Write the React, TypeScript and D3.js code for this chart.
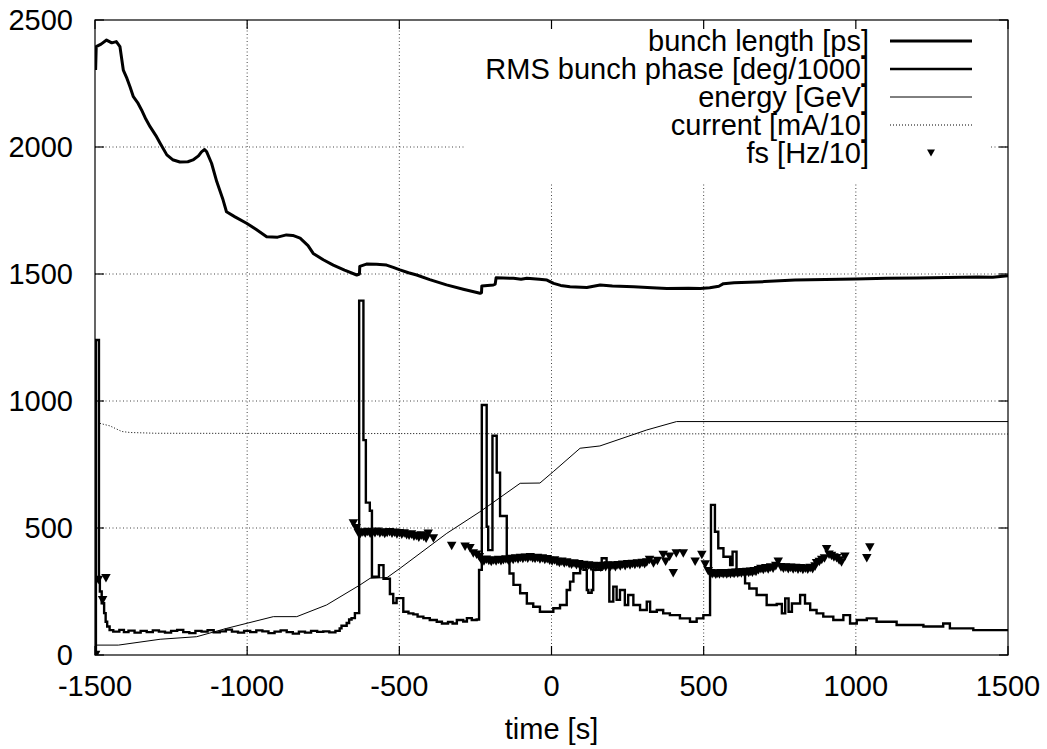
import React from 'react';
import * as d3 from 'd3';

type P = [number, number];

const xTicks = [-1500, -1000, -500, 0, 500, 1000, 1500];
const yTicks = [0, 500, 1000, 1500, 2000, 2500];
const xLabel = 'time [s]';
const legendLabels = [
  'bunch length [ps]',
  'RMS bunch phase [deg/1000]',
  'energy [GeV]',
  'current [mA/10]',
  'fs [Hz/10]',
];

const bunchLength: P[] = [
  [-1498, 2303], [-1496, 2395], [-1480, 2405], [-1462, 2421], [-1445, 2410], [-1430, 2415],
  [-1418, 2395], [-1407, 2303], [-1395, 2270], [-1385, 2237], [-1374, 2198], [-1360, 2175],
  [-1347, 2146], [-1333, 2110], [-1319, 2080], [-1300, 2045], [-1286, 2015], [-1264, 1969],
  [-1245, 1950], [-1221, 1941], [-1195, 1942], [-1178, 1949], [-1160, 1965], [-1150, 1981],
  [-1140, 1990], [-1133, 1981], [-1117, 1936], [-1100, 1864], [-1079, 1791], [-1068, 1745],
  [-1040, 1725], [-1002, 1700], [-970, 1675], [-936, 1647], [-900, 1645], [-871, 1654],
  [-850, 1652], [-826, 1641], [-800, 1612], [-783, 1581], [-750, 1556], [-717, 1535],
  [-680, 1515], [-640, 1496], [-631, 1500], [-630, 1530], [-608, 1539], [-575, 1538],
  [-542, 1535], [-520, 1526], [-498, 1516], [-470, 1505], [-443, 1496], [-400, 1478],
  [-345, 1457], [-290, 1440], [-235, 1424], [-230, 1426], [-229, 1453], [-191, 1457],
  [-185, 1460], [-182, 1485], [-125, 1483], [-100, 1479], [-81, 1483], [-40, 1479],
  [-15, 1476], [7, 1463], [30, 1455], [61, 1450], [116, 1447], [160, 1457], [200, 1453],
  [270, 1450], [330, 1446], [379, 1443], [450, 1444], [489, 1443], [520, 1446], [550, 1452],
  [565, 1462], [600, 1466], [700, 1470], [800, 1476], [900, 1478], [1000, 1480],
  [1100, 1483], [1200, 1484], [1300, 1486], [1400, 1488], [1450, 1487], [1500, 1493],
];

const rmsPhase: P[] = [
  [-1499, 0], [-1497, 1240], [-1487, 295], [-1484, 250], [-1478, 204], [-1470, 165],
  [-1465, 131], [-1460, 112], [-1452, 98], [-1440, 92], [-1420, 99], [-1405, 90],
  [-1390, 96], [-1370, 88], [-1350, 95], [-1330, 90], [-1310, 97], [-1290, 92],
  [-1270, 88], [-1250, 95], [-1230, 99], [-1210, 90], [-1190, 86], [-1170, 95],
  [-1150, 92], [-1130, 98], [-1110, 89], [-1090, 93], [-1070, 100], [-1050, 92],
  [-1030, 88], [-1010, 95], [-990, 90], [-970, 97], [-950, 93], [-930, 86], [-910, 92],
  [-890, 97], [-870, 90], [-850, 84], [-830, 92], [-810, 88], [-790, 95], [-770, 91],
  [-750, 93], [-730, 89], [-710, 95], [-696, 105], [-690, 115], [-673, 126], [-665, 140],
  [-657, 145], [-646, 165], [-632, 1395], [-618, 846], [-610, 600], [-597, 568],
  [-590, 308], [-567, 354], [-552, 300], [-531, 240], [-520, 205], [-509, 224],
  [-487, 170], [-470, 164], [-454, 160], [-440, 151], [-421, 145], [-400, 138],
  [-377, 131], [-360, 124], [-340, 130], [-325, 124], [-311, 138], [-290, 132],
  [-278, 145], [-262, 138], [-246, 140], [-238, 335], [-229, 984], [-213, 505],
  [-208, 413], [-194, 863], [-180, 718], [-169, 547], [-147, 387], [-138, 321],
  [-125, 276], [-103, 243], [-81, 203], [-60, 190], [-38, 170], [6, 184], [28, 197],
  [50, 256], [61, 289], [72, 322], [94, 361], [105, 335], [116, 256], [121, 245],
  [132, 256], [137, 335], [165, 381], [181, 348], [190, 210], [203, 269], [214, 217],
  [225, 256], [241, 197], [252, 236], [269, 197], [291, 177], [313, 210], [324, 170],
  [346, 177], [367, 164], [389, 157], [422, 144], [455, 131], [477, 144], [499, 157],
  [515, 157], [521, 330], [524, 591], [537, 485], [548, 420], [565, 387], [587, 354],
  [595, 407], [608, 335], [636, 282], [650, 262], [674, 236], [707, 197], [740, 201],
  [757, 164], [768, 223], [779, 170], [790, 203], [817, 236], [833, 203], [850, 177],
  [871, 164], [893, 151], [926, 138], [959, 157], [981, 124], [1003, 138], [1036, 144],
  [1068, 131], [1134, 118], [1222, 112], [1287, 124], [1309, 105], [1386, 98], [1500, 98],
];

const energy: P[] = [
  [-1498, 39], [-1423, 39], [-1286, 62], [-1166, 72], [-1067, 105], [-914, 151],
  [-837, 151], [-739, 197], [-629, 276], [-596, 302], [-540, 305], [-498, 341],
  [-344, 479], [-235, 564], [-103, 676], [-38, 677], [6, 722], [94, 814], [159, 823],
  [313, 886], [411, 919], [1500, 919],
];

const current: P[] = [
  [-1484, 912], [-1451, 902], [-1412, 880], [-1385, 876], [-1300, 873], [0, 871], [1500, 870],
];

const fs: P[] = [
  [-1498, 0], [-1489, 295], [-1475, 215], [-1464, 302],
  [-651, 518], [-642, 499],
  [-635, 480], [-628, 476], [-620, 482], [-612, 478], [-604, 484], [-596, 477], [-588, 481],
  [-580, 479], [-572, 485], [-564, 478], [-556, 482], [-548, 476], [-540, 480], [-532, 483],
  [-524, 477], [-516, 481], [-508, 475], [-500, 479], [-492, 474], [-484, 478], [-476, 472],
  [-468, 470], [-460, 474], [-452, 466], [-444, 468], [-436, 462], [-428, 470], [-420, 465],
  [-412, 458], [-405, 477], [-388, 459],
  [-328, 429], [-284, 426], [-268, 420], [-257, 400], [-246, 395], [-237, 385],
  [-230, 372], [-222, 368], [-214, 375], [-206, 370], [-198, 366], [-190, 372], [-182, 368],
  [-174, 374], [-166, 369], [-158, 373], [-150, 376], [-142, 371], [-134, 378], [-126, 374],
  [-118, 380], [-110, 376], [-102, 382], [-94, 378], [-86, 383], [-78, 379], [-70, 385],
  [-62, 380], [-54, 378], [-46, 382], [-38, 376], [-30, 380], [-22, 374], [-14, 377],
  [-6, 371], [2, 368], [10, 372], [18, 366], [26, 362], [34, 367], [42, 360], [50, 364],
  [58, 358], [66, 355], [74, 360], [82, 353], [90, 357], [98, 350], [106, 354], [114, 348],
  [122, 352], [130, 346], [138, 350], [146, 345], [154, 349], [162, 344], [170, 350],
  [178, 346], [186, 352], [194, 347], [202, 351], [210, 346], [218, 353], [226, 349],
  [234, 355], [242, 350], [250, 357], [258, 352], [266, 358], [274, 354], [282, 360],
  [290, 355], [298, 362], [306, 357], [313, 364], [322, 374], [335, 360], [348, 370],
  [367, 394], [375, 367], [388, 387], [400, 322], [410, 400], [433, 400], [472, 367],
  [494, 394], [505, 356], [515, 330],
  [522, 322], [528, 318], [534, 321], [540, 316], [546, 320], [552, 317], [558, 322],
  [564, 318], [570, 321], [576, 317], [582, 322], [588, 318], [594, 323], [600, 319],
  [606, 324], [612, 320], [618, 325], [624, 321], [630, 326], [636, 322], [642, 327],
  [648, 323], [654, 328], [660, 324], [666, 330], [672, 327], [680, 334], [688, 338],
  [696, 335], [704, 341], [712, 337], [720, 344], [728, 340], [737, 350], [745, 367],
  [754, 345], [762, 340], [770, 344], [778, 338], [786, 343], [794, 337], [802, 342],
  [810, 336], [818, 341], [826, 335], [834, 340], [842, 336], [850, 342], [858, 338],
  [866, 348], [871, 361], [880, 366], [888, 374], [897, 380], [904, 416], [912, 395],
  [920, 390], [928, 384], [937, 381], [945, 372], [953, 364], [964, 387], [1036, 381],
  [1046, 423],
];

export default function App() {
  const W = 1047;
  const H = 749;
  const left = 95;
  const right = 1008;
  const top = 20;
  const bottom = 655;
  const x = d3.scaleLinear().domain([-1500, 1500]).range([left, right]);
  const y = d3.scaleLinear().domain([0, 2500]).range([bottom, top]);
  const lin = d3.line<P>().x((d) => x(d[0])).y((d) => y(d[1]));
  const step = d3.line<P>().x((d) => x(d[0])).y((d) => y(d[1])).curve(d3.curveStepAfter);
  const font = "'Liberation Sans', Arial, Helvetica, sans-serif";
  const fsz = 29;
  const tri = (cx: number, cy: number, s: number) =>
    `M${cx - s / 2},${cy - s * 0.45}L${cx + s / 2},${cy - s * 0.45}L${cx},${cy + s * 0.45}Z`;
  const tickLen = 9;
  const grid = '#444';

  const legendRows = [41, 69, 97, 125, 153];
  const legTextX = 869;
  const legX1 = 890;
  const legX2 = 972;

  return (
    <svg
      width={W}
      height={H}
      style={{ position: 'absolute', left: 0, top: 0, background: '#fff' }}
      fontFamily={font}
    >
      <defs>
        <clipPath id="plotclip">
          <rect x={left} y={top} width={right - left} height={bottom - top} />
        </clipPath>
      </defs>
      <rect x={0} y={0} width={W} height={H} fill="#fff" />
      <g stroke={grid} strokeWidth={1} strokeDasharray="1,2.5">
        {xTicks.slice(1, -1).map((t) => (
          <line key={'gx' + t} x1={x(t)} x2={x(t)} y1={top} y2={bottom} />
        ))}
        {yTicks.slice(1, -1).map((t) => (
          <line key={'gy' + t} x1={left} x2={right} y1={y(t)} y2={y(t)} />
        ))}
      </g>
      <rect x={465} y={21} width={525} height={161} fill="#fff" />
      <g clipPath="url(#plotclip)" fill="none">
        <path d={lin(current) || ''} stroke="#000" strokeWidth={1} strokeDasharray="1,2" />
        <path d={lin(energy) || ''} stroke="#000" strokeWidth={1} />
        <path d={step(rmsPhase) || ''} stroke="#000" strokeWidth={2.4} strokeLinejoin="miter" />
        <path d={lin(bunchLength) || ''} stroke="#000" strokeWidth={3} strokeLinejoin="round" />
        <g fill="#000" stroke="none">
          {fs.map((d, i) => (
            <path key={'fs' + i} d={tri(x(d[0]), y(d[1]), 9.5)} />
          ))}
        </g>
      </g>
      <rect x={left} y={top} width={right - left} height={bottom - top} fill="none" stroke="#000" strokeWidth={1.2} />
      <g stroke="#000" strokeWidth={1.2}>
        {xTicks.map((t) => (
          <g key={'tx' + t}>
            <line x1={x(t)} x2={x(t)} y1={bottom} y2={bottom - tickLen} />
            <line x1={x(t)} x2={x(t)} y1={top} y2={top + tickLen} />
          </g>
        ))}
        {yTicks.map((t) => (
          <g key={'ty' + t}>
            <line x1={left} x2={left + tickLen} y1={y(t)} y2={y(t)} />
            <line x1={right} x2={right - tickLen} y1={y(t)} y2={y(t)} />
          </g>
        ))}
      </g>
      <g fontSize={fsz} fill="#000">
        {xTicks.map((t) => (
          <text key={'lx' + t} x={x(t)} y={696} textAnchor="middle">
            {t}
          </text>
        ))}
        {yTicks.map((t) => (
          <text key={'ly' + t} x={73} y={y(t)} dy="0.36em" textAnchor="end">
            {t}
          </text>
        ))}
        <text x={(left + right) / 2} y={739} textAnchor="middle">
          {xLabel}
        </text>
      </g>
      <g fontSize={fsz} fill="#000">
        {legendLabels.map((lab, i) => (
          <text key={'lg' + i} x={legTextX} y={legendRows[i]} dy="0.36em" textAnchor="end">
            {lab}
          </text>
        ))}
      </g>
      <g fill="none" stroke="#000">
        <line x1={legX1} x2={legX2} y1={legendRows[0]} y2={legendRows[0]} strokeWidth={3} />
        <line x1={legX1} x2={legX2} y1={legendRows[1]} y2={legendRows[1]} strokeWidth={2.4} />
        <line x1={legX1} x2={legX2} y1={legendRows[2]} y2={legendRows[2]} strokeWidth={1} />
        <line x1={legX1} x2={legX2} y1={legendRows[3]} y2={legendRows[3]} strokeWidth={1} strokeDasharray="1,2" />
      </g>
      <path d={tri((legX1 + legX2) / 2, legendRows[4], 8)} fill="#000" />
    </svg>
  );
}
